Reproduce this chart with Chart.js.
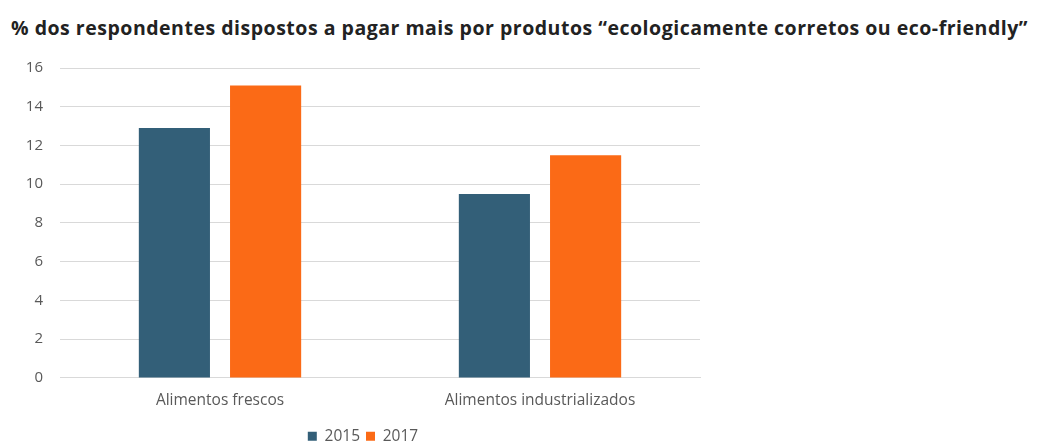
<!DOCTYPE html>
<html>
<head>
<meta charset="utf-8">
<script src="https://cdn.jsdelivr.net/npm/chart.js@4"></script>
<style>
  html, body { margin: 0; padding: 0; background: #fff; width: 1037px; height: 443px; overflow: hidden; position: relative; }
  #title {
    position: absolute; left: 11px; top: 14px;
    font-family: "Open Sans", sans-serif; font-weight: 700; font-size: 19.5px;
    color: #222; white-space: nowrap; z-index: 2;
  }
  #wrap { position: absolute; left: 0; top: 42px; width: 760px; height: 412px; }
</style>
</head>
<body>
<div id="title">% dos respondentes dispostos a pagar mais por produtos “ecologicamente corretos ou eco-friendly”</div>
<div id="wrap"><canvas id="c"></canvas></div>
<script>
// Categories and yearly shares (% of respondents)
const categories = ["Alimentos frescos", "Alimentos industrializados"];
const values2015 = [12.9, 9.5];
const values2017 = [15.1, 11.5];
const seriesLabels = ["2015", "2017"];
const yTicks = [0, 2, 4, 6, 8, 10, 12, 14, 16];

// Stretch the heading's letter spacing so it runs to the right edge
(function fitTitle() {
  const t = document.getElementById("title");
  const target = 1017;
  const w = t.getBoundingClientRect().width;
  const n = t.textContent.length;
  if (w < target) t.style.letterSpacing = ((target - w) / n).toFixed(3) + "px";
})();

const ctx = document.getElementById("c");
new Chart(ctx, {
  type: "bar",
  data: {
    labels: categories,
    datasets: [
      { label: seriesLabels[0], data: values2015, backgroundColor: "#335f78" },
      { label: seriesLabels[1], data: values2017, backgroundColor: "#fb6a16" }
    ]
  },
  options: {
    responsive: true,
    maintainAspectRatio: false,
    animation: false,
    datasets: { bar: { categoryPercentage: 0.57, barPercentage: 0.78 } },
    layout: { padding: { top: 5, right: 60, left: 26, bottom: 0 } },
    plugins: {
      title: { display: false },
      tooltip: { enabled: false },
      legend: {
        position: "bottom",
        labels: {
          boxWidth: 9, boxHeight: 9, padding: 6,
          color: "#595959",
          font: { family: "Open Sans", size: 15.5 }
        }
      }
    },
    scales: {
      x: {
        grid: { display: false, drawTicks: false },
        border: { display: true, color: "#d9d9d9", width: 1 },
        ticks: { color: "#595959", padding: 13, font: { family: "Open Sans", size: 15.5 } }
      },
      y: {
        min: 0, max: 16,
        afterBuildTicks: (axis) => { axis.ticks = yTicks.map(v => ({ value: v })); },
        afterFit: (axis) => { axis.width = 34; },
        grid: { color: "#d9d9d9", drawTicks: false },
        border: { display: false },
        ticks: { color: "#595959", padding: 17, font: { family: "Open Sans", size: 15 } }
      }
    }
  }
});
</script>
</body>
</html>
